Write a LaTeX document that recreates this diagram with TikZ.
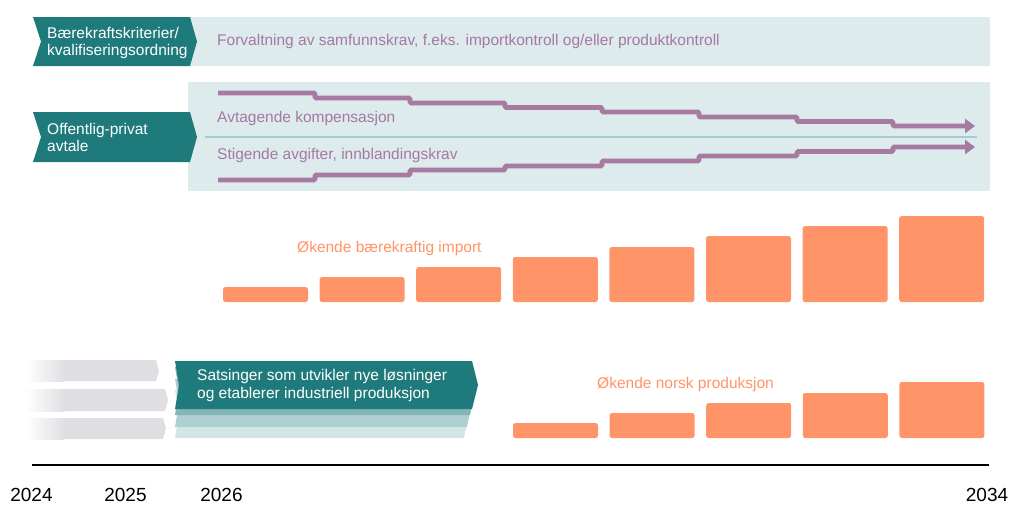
\documentclass[tikz,border=0pt]{standalone}
\usepackage{fontspec}
\setmainfont{Liberation Sans}
\usetikzlibrary{arrows.meta}
\definecolor{tealdark}{HTML}{1F7A7C}
\definecolor{bandbg}{HTML}{DDEBEC}
\definecolor{sepline}{HTML}{A6CCCD}
\definecolor{purp}{HTML}{A67AA1}
\definecolor{purptext}{HTML}{A678A2}
\definecolor{orng}{HTML}{FF9468}
\definecolor{greybar}{HTML}{DFDFE3}
\definecolor{shadowA}{HTML}{84B6B6}
\definecolor{shadowB}{HTML}{AED0D0}
\definecolor{shadowC}{HTML}{D3E6E6}
\newcommand\mychev[7]{\fill[#1] (#2,#3) -- (#4,#3) -- ({#4+#7},{(#3+#5)/2}) -- (#4,#5) -- (#2,#5) -- ({#2+#6},{(#3+#5)/2}) -- cycle;}
\begin{document}
\begin{tikzpicture}[x=1pt,y=-1pt,
  txt/.style={inner sep=0pt, align=left, font=\fontsize{15.5}{17}\selectfont},
  wtext/.style={txt, text=white},
  ptext/.style={txt, text=purptext, anchor=west},
  otext/.style={txt, text=orng, anchor=west},
  year/.style={inner sep=0pt, anchor=base, font=\fontsize{19}{22}\selectfont, text=black},
  pline/.style={draw=purp, line width=4.7pt, rounded corners=1.2pt, -{Triangle[length=10pt,width=14pt]}},
  bar/.style={fill=orng, rounded corners=2.5pt}]
\useasboundingbox (0,0) rectangle (1011,504);

% ---- row 1
\fill[bandbg] (188,17) rectangle (990,66);
\mychev{tealdark}{33}{17}{190}{66}{8}{7}
\node[wtext, anchor=west] (crit) at (47,42.5) {Bærekraftskriterier/\\kvalifiseringsordning};
\node[ptext] (forv) at (217,41) {Forvaltning av samfunnskrav, f.eks. importkontroll og/eller produktkontroll};

% ---- row 2
\fill[bandbg] (188,82) rectangle (990,191);
\mychev{tealdark}{33}{112}{190}{162}{8}{7}
\node[wtext, anchor=west] (opa) at (47,137) {Offentlig-privat\\avtale};
\coordinate (sepL) at (205,137);
\coordinate (sepR) at (977,137);
\draw[sepline, line width=1.5pt] (sepL) -- (sepR);
\node[ptext] (avt) at (217,118) {Avtagende kompensasjon};
\node[ptext] (stig) at (217,155) {Stigende avgifter, innblandingskrav};
\coordinate (downS) at (218,93);
\coordinate (downE) at (975,126);
\coordinate (upS) at (218,180);
\coordinate (upE) at (975,147);
\draw[pline] (downS) -- (315,93) -- (315,98) -- (410,98) -- (410,103) -- (505,103) -- (505,107.5) -- (602,107.5) -- (602,112) -- (699,112) -- (699,117) -- (797,117) -- (797,121.5) -- (893,121.5) -- (893,126) -- (downE);
\draw[pline] (upS) -- (315,180) -- (315,175) -- (410,175) -- (410,170) -- (505,170) -- (505,166) -- (602,166) -- (602,161) -- (699,161) -- (699,156) -- (797,156) -- (797,151.5) -- (893,151.5) -- (893,147) -- (upE);

% ---- import bars
\node[otext] (imp) at (297,248) {Økende bærekraftig import};
\foreach \i/\t in {0/287,1/277,2/267,3/257,4/247,5/236,6/226,7/216}{
  \fill[bar] ({223+96.6*\i},\t) rectangle ({308+96.6*\i},302);
}

% ---- grey fading arrows
\foreach \ya/\yb/\xc in {360/381/156, 389/411/165, 418/439/163}{
  \fill[greybar] (64,\ya) -- (\xc,\ya) -- ({\xc+3},{(\ya+\yb)/2}) -- (\xc,\yb) -- (64,\yb) -- cycle;
  \shade[left color=white, right color=greybar] (26,\ya) rectangle (64.5,\yb);
}

% ---- teal banner with shadows
\mychev{shadowC}{175}{390}{464}{438}{4}{5}
\mychev{shadowB}{175}{379}{467}{427}{4}{5}
\mychev{shadowA}{175}{367}{470}{415}{4}{5}
\mychev{tealdark}{175}{361}{472}{409}{4}{6}
\node[wtext, anchor=west, font=\fontsize{15.5}{18}\selectfont] (sats) at (197,385) {Satsinger som utvikler nye løsninger\\og etablerer industriell produksjon};

% ---- norsk bars
\node[otext] (norsk) at (597,384) {Økende norsk produksjon};
\foreach \i/\t in {0/423,1/413,2/403,3/393,4/382}{
  \fill[bar] ({513+96.6*\i},\t) rectangle ({598+96.6*\i},438);
}

% ---- axis
\coordinate (axL) at (32,465);
\coordinate (axR) at (989,465);
\draw[black, line width=2.6pt] (axL) -- (axR);
\node[year] (y24) at (31.5,501) {2024};
\node[year] (y25) at (125.5,501) {2025};
\node[year] (y26) at (221.5,501) {2026};
\node[year] (y34) at (987,501) {2034};
\end{tikzpicture}
\end{document}
